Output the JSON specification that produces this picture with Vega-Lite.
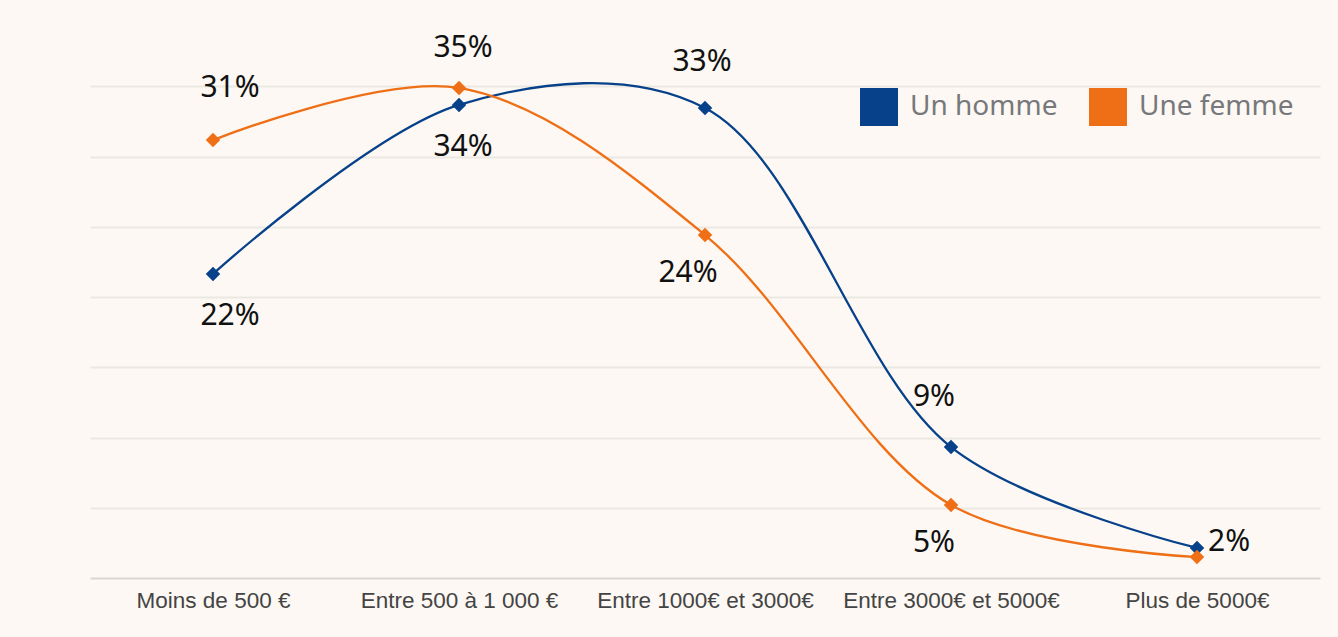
{
  "$schema": "https://vega.github.io/schema/vega-lite/v6.json",
  "width": 1230,
  "height": 562,
  "autosize": {"type": "none"},
  "padding": {"left": 90, "top": 16, "right": 18, "bottom": 59},
  "background": "#fdf8f3",
  "config": {"view": {"stroke": null}, "font": "Noto Sans"},
  "data": {
    "values": [
      {"categorie": "Moins de 500 €", "sexe": "Un homme", "valeur": 21.64, "etiquette": "22%"},
      {"categorie": "Entre 500 à 1 000 €", "sexe": "Un homme", "valeur": 33.67, "etiquette": "34%"},
      {"categorie": "Entre 1000€ et 3000€", "sexe": "Un homme", "valeur": 33.45, "etiquette": "33%"},
      {"categorie": "Entre 3000€ et 5000€", "sexe": "Un homme", "valeur": 9.32, "etiquette": "9%"},
      {"categorie": "Plus de 5000€", "sexe": "Un homme", "valeur": 2.14, "etiquette": "2%"},
      {"categorie": "Moins de 500 €", "sexe": "Une femme", "valeur": 31.17, "etiquette": "31%"},
      {"categorie": "Entre 500 à 1 000 €", "sexe": "Une femme", "valeur": 34.88, "etiquette": "35%"},
      {"categorie": "Entre 1000€ et 3000€", "sexe": "Une femme", "valeur": 24.41, "etiquette": "24%"},
      {"categorie": "Entre 3000€ et 5000€", "sexe": "Une femme", "valeur": 5.2, "etiquette": "5%"},
      {"categorie": "Plus de 5000€", "sexe": "Une femme", "valeur": 1.49, "etiquette": ""}
    ]
  },
  "encoding": {
    "x": {
      "field": "categorie",
      "type": "nominal",
      "sort": ["Moins de 500 €", "Entre 500 à 1 000 €", "Entre 1000€ et 3000€", "Entre 3000€ et 5000€", "Plus de 5000€"],
      "scale": {"type": "point", "padding": 0.5},
      "axis": {
        "title": null,
        "labelAngle": 0,
        "ticks": false,
        "grid": false,
        "labelFont": "Liberation Sans",
        "labelFontSize": 22.5,
        "labelLimit": 0,
        "labelColor": "#444444",
        "labelPadding": 11,
        "domainColor": "#d9d6d2",
        "domainWidth": 2
      }
    },
    "y": {
      "field": "valeur",
      "type": "quantitative",
      "scale": {"domain": [0, 40]},
      "axis": {
        "title": null,
        "labels": false,
        "ticks": false,
        "domain": false,
        "values": [5, 10, 15, 20, 25, 30, 35],
        "gridColor": "#ebe7e2",
        "gridWidth": 2
      }
    }
  },
  "layer": [
    {
      "mark": {"type": "line", "interpolate": "catmull-rom", "strokeWidth": 2.3},
      "encoding": {
        "color": {
          "field": "sexe",
          "type": "nominal",
          "scale": {"domain": ["Un homme", "Une femme"], "range": ["#06418a", "#ee6f16"]},
          "legend": {
            "title": null,
            "orient": "none",
            "legendX": 770,
            "legendY": 72,
            "direction": "horizontal",
            "symbolType": "square",
            "symbolSize": 1444,
            "symbolStrokeWidth": 0,
            "labelFont": "Noto Sans",
            "labelFontSize": 28,
            "labelColor": "#77787b",
            "labelOffset": 12,
            "columnPadding": 31
          }
        }
      }
    },
    {
      "mark": {"type": "point", "shape": "diamond", "filled": true, "size": 210, "opacity": 1},
      "encoding": {
        "color": {"field": "sexe", "type": "nominal"}
      }
    },
    {
      "transform": [{"filter": "datum.etiquette == '31%'"}],
      "mark": {"type": "text", "fontSize": 30, "color": "#111111", "align": "center", "baseline": "middle", "dx": 17, "dy": -52},
      "encoding": {"text": {"field": "etiquette"}}
    },
    {
      "transform": [{"filter": "datum.etiquette == '35%'"}],
      "mark": {"type": "text", "fontSize": 30, "color": "#111111", "align": "center", "baseline": "middle", "dx": 4, "dy": -40},
      "encoding": {"text": {"field": "etiquette"}}
    },
    {
      "transform": [{"filter": "datum.etiquette == '33%'"}],
      "mark": {"type": "text", "fontSize": 30, "color": "#111111", "align": "center", "baseline": "middle", "dx": -3, "dy": -46},
      "encoding": {"text": {"field": "etiquette"}}
    },
    {
      "transform": [{"filter": "datum.etiquette == '9%'"}],
      "mark": {"type": "text", "fontSize": 30, "color": "#111111", "align": "center", "baseline": "middle", "dx": -17, "dy": -50},
      "encoding": {"text": {"field": "etiquette"}}
    },
    {
      "transform": [{"filter": "datum.etiquette == '22%'"}],
      "mark": {"type": "text", "fontSize": 30, "color": "#111111", "align": "center", "baseline": "middle", "dx": 17, "dy": 42},
      "encoding": {"text": {"field": "etiquette"}}
    },
    {
      "transform": [{"filter": "datum.etiquette == '34%'"}],
      "mark": {"type": "text", "fontSize": 30, "color": "#111111", "align": "center", "baseline": "middle", "dx": 4, "dy": 42},
      "encoding": {"text": {"field": "etiquette"}}
    },
    {
      "transform": [{"filter": "datum.etiquette == '24%' || datum.etiquette == '5%'"}],
      "mark": {"type": "text", "fontSize": 30, "color": "#111111", "align": "center", "baseline": "middle", "dx": -17, "dy": 38},
      "encoding": {"text": {"field": "etiquette"}}
    },
    {
      "transform": [{"filter": "datum.etiquette == '2%'"}],
      "mark": {"type": "text", "fontSize": 30, "color": "#111111", "align": "left", "baseline": "middle", "dx": 11, "dy": -6},
      "encoding": {"text": {"field": "etiquette"}}
    }
  ]
}
